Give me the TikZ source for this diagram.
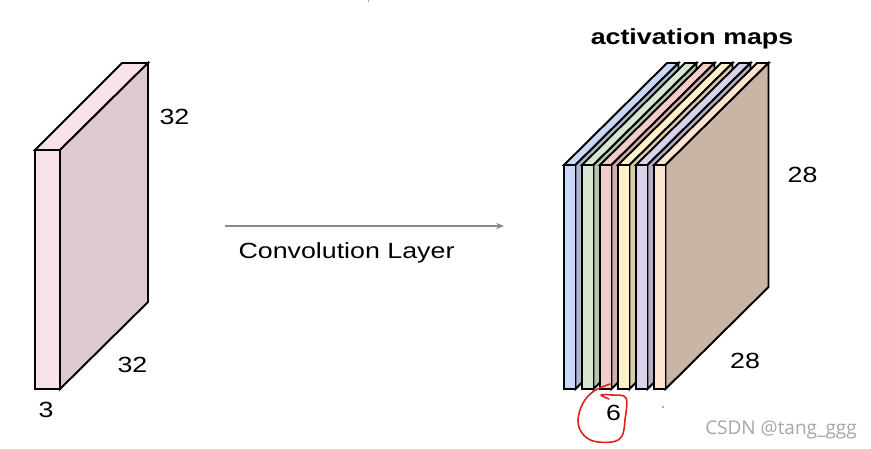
\documentclass[tikz,border=0pt]{standalone}
\usepackage{fontspec}
\setmainfont{Liberation Sans}
\newfontfamily\wmfont{Open Sans}
\usetikzlibrary{arrows.meta}
\definecolor{lpf}{HTML}{F9E2E8}
\definecolor{lps}{HTML}{DDCACF}
\definecolor{c1f}{HTML}{C9D8F6}
\definecolor{c1s}{HTML}{ABB8D3}
\definecolor{c2f}{HTML}{D7E7CF}
\definecolor{c2s}{HTML}{B5C4AC}
\definecolor{c3f}{HTML}{F4CBCB}
\definecolor{c3s}{HTML}{D2AEAE}
\definecolor{c4f}{HTML}{FFF1CB}
\definecolor{c4s}{HTML}{D9CDA8}
\definecolor{c5f}{HTML}{D9D2E9}
\definecolor{c5s}{HTML}{B4AEC6}
\definecolor{c6f}{HTML}{FCE4CF}
\definecolor{c6s}{HTML}{C9B4A6}
\definecolor{arrowgray}{HTML}{8A8A8A}
\definecolor{wmgray}{HTML}{A6A6A6}
\definecolor{annot}{HTML}{E01E1E}
\newcommand{\widetxt}[1]{\scalebox{1.22}[1]{#1}}
\tikzset{
  slab/.style={draw=black, line width=1.1pt, line join=miter},
  lbl/.style={anchor=base, inner sep=0pt, font=\fontsize{12.5}{15}\selectfont},
  boldlbl/.style={anchor=base, inner sep=0pt, font=\fontsize{12.5}{15}\selectfont\bfseries},
  wm/.style={anchor=base, inner sep=0pt, text=wmgray, font=\wmfont\fontsize{10.8}{13}\selectfont},
  conn/.style={draw=arrowgray, line width=0.7pt, -{Stealth[length=4.5pt,width=3.6pt]}},
  redloop/.style={draw=annot, line width=0.9pt, line cap=round, line join=round}
}
\begin{document}
\begin{tikzpicture}[x=0.02cm,y=-0.02cm]
\useasboundingbox (0,0) rectangle (871,449);
% left input volume
\draw[slab, fill=lpf] (35,150) -- (122,63) -- (148,63) -- (60,150) -- cycle;
\draw[slab, fill=lps] (60,150) -- (148,63) -- (148,302) -- (60,389) -- cycle;
\draw[slab, fill=lpf] (35,150) rectangle (60,389);
% activation maps
\foreach \fc/\sc [count=\i from 0] in {c1f/c1s,c2f/c2s,c3f/c3s,c4f/c4s,c5f/c5s,c6f/c6s}{
  \pgfmathsetmacro\xa{564+18*\i}
  \pgfmathsetmacro\xb{\xa+11.5}
  \draw[slab, fill=\fc] (\xa,165) -- ++(103,-102) -- ++(11.5,0) -- (\xb,165) -- cycle;
  \draw[slab, fill=\sc] (\xb,165) -- ++(103,-102) -- ++(0,224) -- (\xb,389) -- cycle;
  \draw[slab, fill=\fc] (\xa,165) rectangle (\xb,389);
}
% arrow
\coordinate (arrowS) at (225,226);
\coordinate (arrowE) at (504,226);
\draw[conn] (arrowS) -- (arrowE);
% labels
\node[lbl] (in32a) at (174.5,125) {\widetxt{32}};
\node[lbl] (in32b) at (132.5,372) {\widetxt{32}};
\node[lbl] (in3) at (46,417) {\widetxt{3}};
\node[lbl] (conv) at (346.5,258) {\widetxt{Convolution Layer}};
\node[boldlbl] (act) at (692,45) {\widetxt{activation maps}};
\node[lbl] (out28a) at (802.5,182) {\widetxt{28}};
\node[lbl] (out28b) at (745,368) {\widetxt{28}};
\node[lbl] (out6) at (613.5,420) {\widetxt{6}};
\node[wm] (wmark) at (781,434) {CSDN @tang\_ggg};
% red hand-drawn annotation
\draw[redloop] plot[smooth, tension=0.6] coordinates {(610,384) (594,391) (583,403) (578,420) (582,433) (593,441) (612,442) (622,436) (625,420) (626,398) (612,395) (601,395) (609,399)};
\fill[annot!60!gray] (663,407) circle (0.9);
\fill[gray!70] (367.5,0) rectangle (369,2.5);
\end{tikzpicture}
\end{document}
